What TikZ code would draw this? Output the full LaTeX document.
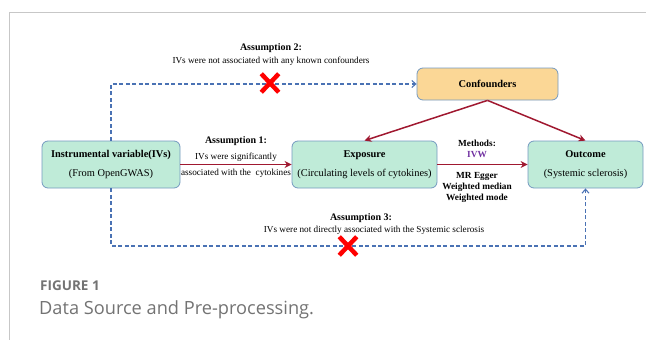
\documentclass[tikz,border=0pt]{standalone}
\usepackage{fontspec}
\setmainfont{Liberation Serif}
\newfontfamily\capfont{Open Sans}
\usepackage{xcolor}
\usetikzlibrary{arrows.meta,shapes.misc}

\definecolor{mint}{HTML}{BFEBD8}
\definecolor{peach}{HTML}{FBD796}
\definecolor{rim}{HTML}{7499C0}
\definecolor{wine}{HTML}{A01830}
\definecolor{dashblue}{HTML}{4A72B4}
\definecolor{ivwpurple}{HTML}{7030A0}

\begin{document}
\begin{tikzpicture}[
  x=1pt, y=-1pt,
  box/.style={rectangle, rounded corners=6pt, draw=rim, line width=0.8pt, fill=mint,
    align=center, font=\fontsize{10.4}{19}\selectfont, inner sep=0pt},
  conf/.style={box, fill=peach},
  note/.style={align=center, font=\fontsize{9.2}{12}\selectfont, inner sep=0pt},
  head/.style={font=\bfseries\fontsize{10}{12}\selectfont},
  causal/.style={draw=wine, line width=1.5pt, -{Stealth[length=7pt,width=7pt]}},
  assume/.style={draw=dashblue, line width=1.1pt, dash pattern=on 4pt off 2.5pt,
    -{Straight Barb[length=4pt,width=7pt]}},
  nope/.style={cross out, draw=red, line width=4.5pt, minimum width=13pt,
    minimum height=14pt, inner sep=0pt}
]
\useasboundingbox (0,0) rectangle (646,340);

% page frame
\draw[black!22, line width=0.8pt] (9,340) -- (9,12) -- (646,12);

% boxes
\node[box, minimum width=138pt, minimum height=47pt] (iv) at (111,164.5)
  {\textbf{Instrumental variable(IVs)}\\(From OpenGWAS)};
\node[box, minimum width=145pt, minimum height=47pt] (exp) at (364.5,164.5)
  {\textbf{Exposure}\\(Circulating levels of cytokines)};
\node[box, minimum width=115pt, minimum height=47pt] (out) at (585.5,164.5)
  {\textbf{Outcome}\\(Systemic sclerosis)};
\node[conf, minimum width=141pt, minimum height=32pt] (conf) at (487.5,84)
  {\textbf{Confounders}};

\draw[causal] (iv) -- (exp);
\draw[causal] (exp) -- (out);
\draw[causal] (conf.south) -- (exp.north);
\draw[causal] (conf.south) -- (out.north);

% violated paths
\coordinate (low) at (111,246);
\draw[assume] (iv.north) |- (conf.west);
\draw[assume] (iv.south) -- (low) -| (out.south);
\node[nope] (x2) at (270,83) {};
\node[nope] (x3) at (348,246) {};

% assumptions and methods
\node[head] (a2) at (271,48) {Assumption 2:};
\node[note] (a2t) at (271,61.5) {IVs were not associated with any known confounders};
\node[head] (a1) at (236,141) {Assumption 1:};
\node[note] (a1t) at (236,165.5) {IVs were significantly\\[4.5pt]associated with the\ \ cytokines};
\node[head] (a3) at (361,218) {Assumption 3:};
\node[note] (a3t) at (374,230) {IVs were not directly associated with the Systemic sclerosis};
\node[note, font=\bfseries\fontsize{9.3}{11}\selectfont] (m1) at (477,148.5) {Methods:\\\textcolor{ivwpurple}{IVW}};
\node[note, font=\bfseries\fontsize{9.3}{11}\selectfont] (m2) at (477,187) {MR Egger\\Weighted median\\Weighted mode};

% caption
\node[anchor=base west, inner sep=0pt, text=black!55, font=\capfont\bfseries\fontsize{13.5}{15}\selectfont] (fig) at (40,290) {FIGURE 1};
\node[anchor=base west, inner sep=0pt, text=black!55, font=\capfont\fontsize{18.2}{20}\selectfont] (cap) at (39,314.5) {Data Source and Pre-processing.};
\end{tikzpicture}
\end{document}
